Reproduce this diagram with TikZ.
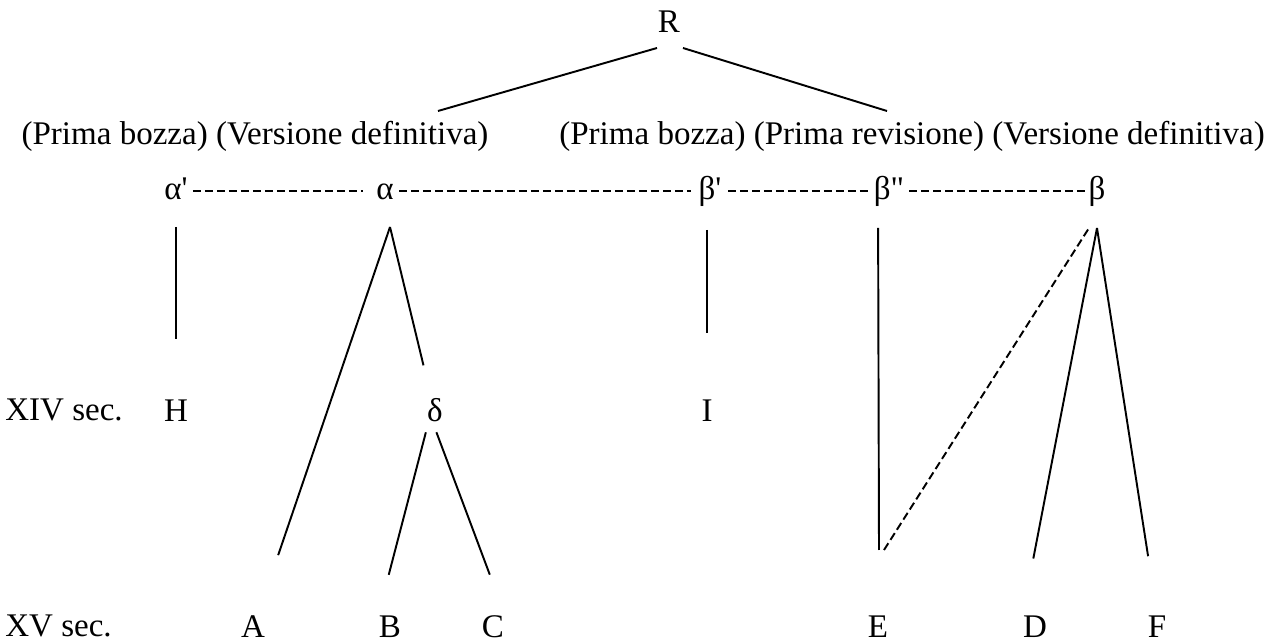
\documentclass[tikz,border=0pt]{standalone}
\usepackage{fontspec}
\setmainfont{Liberation Serif}
\usetikzlibrary{positioning}

\begin{document}
\begin{tikzpicture}[
  x=0.02cm, y=-0.02cm,
  every node/.style={font=\fontsize{18.8}{23}\selectfont},
  sigla/.style={inner sep=0pt, text height=0.47cm, text depth=0.135cm},
  lbl/.style={inner sep=0pt, anchor=base},
  ln/.style={line width=1.1pt},
  coll/.style={line width=1.1pt, dash pattern=on 0.16cm off 0.08cm}
]
\useasboundingbox (0,0) rectangle (1271,644);
\node[sigla] (R) at (669,24) {R};
\node[lbl] (rowL) at (255,145) {(Prima bozza) (Versione definitiva)};
\node[lbl] (rowR) at (912,145) {(Prima bozza) (Prima revisione) (Versione definitiva)};
\node[sigla] (alfa1) at (176,191) {α\textquotesingle};
\node[sigla] (alfa) at (385,191) {α};
\node[sigla] (beta1) at (710,191) {β\textquotesingle};
\node[sigla] (beta2) at (889,191) {β\textquotedbl};
\node[sigla] (beta) at (1097,191) {β};
\node[lbl, anchor=base west] (sec14) at (5,421) {XIV sec.};
\node[sigla] (H) at (176,413) {H};
\node[sigla] (delta) at (435,413) {δ};
\node[sigla] (I) at (707,413) {I};
\node[lbl, anchor=base west] (sec15) at (5,637) {XV sec.};
\node[sigla] (A) at (253,629) {A};
\node[sigla] (B) at (390,629) {B};
\node[sigla] (C) at (493,629) {C};
\node[sigla] (E) at (878,629) {E};
\node[sigla] (D) at (1035,629) {D};
\node[sigla] (F) at (1157,629) {F};
\coordinate (rl) at (438,111);
\coordinate (rr) at (887,111);
\coordinate (alfa-v) at (390,227);
\coordinate (beta-v) at (1097,228);
\coordinate (e-v) at (879,550);
\draw[ln] ([shift={(-12,24)}]R.center) -- (rl);
\draw[ln] ([shift={(14,24)}]R.center) -- (rr);
\draw[coll, shorten <=0.34cm, shorten >=0.44cm] (alfa1.center) -- (alfa.center);
\draw[coll, shorten <=0.28cm, shorten >=0.38cm] (alfa.center) -- (beta1.center);
\draw[coll, shorten <=0.36cm, shorten >=0.36cm] (beta1.center) -- (beta2.center);
\draw[coll, shorten <=0.4cm, shorten >=0.2cm] (beta2.center) -- (beta.center);
\draw[ln, shorten <=0.72cm, shorten >=1.48cm] (H |- alfa1) -- (H.center);
\draw[ln, shorten <=0.78cm, shorten >=1.6cm] (I |- beta1) -- (I.center);
\draw[ln, shorten <=0.74cm] (E |- beta2) -- (e-v);
\draw[ln, shorten >=1.56cm] (alfa-v) -- (A.center);
\draw[ln, shorten >=0.98cm] (alfa-v) -- (delta.center);
\draw[ln, shorten <=0.08cm, shorten >=0.8cm] (delta.south west) -- (B.north west);
\draw[ln, shorten <=0.08cm, shorten >=0.83cm] (delta.south) -- (C.north east);
\draw[ln, shorten >=1.12cm] (beta-v) -- (D.north west);
\draw[ln, shorten >=1.16cm] (beta-v) -- (F.north);
\draw[coll] ([shift={(5,0)}]e-v) -- ([shift={(-8,0)}]beta-v);
\end{tikzpicture}
\end{document}
